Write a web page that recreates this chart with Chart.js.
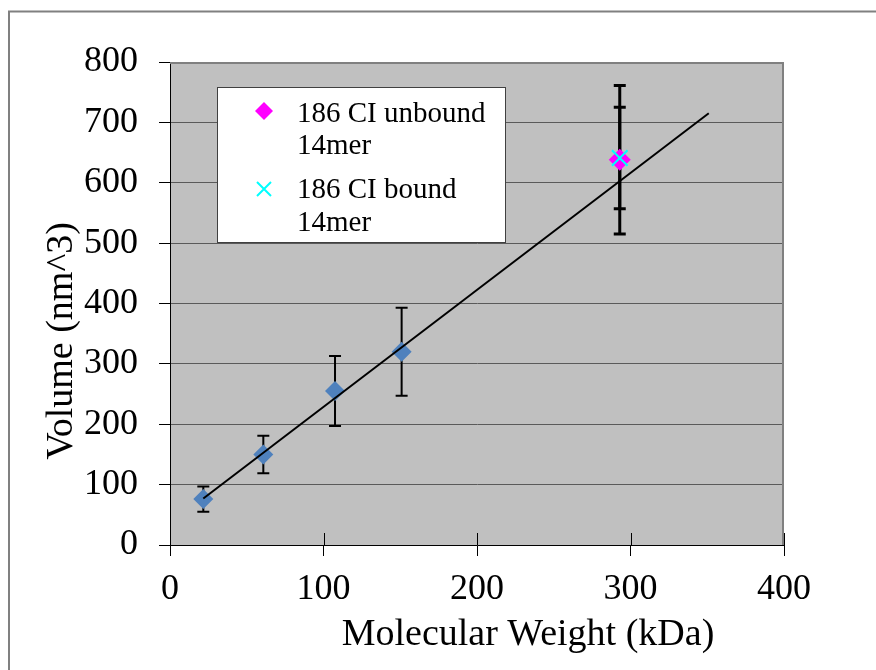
<!DOCTYPE html>
<html><head><meta charset="utf-8">
<script src="https://cdn.jsdelivr.net/npm/chart.js@4.4.0/dist/chart.umd.min.js"></script>
<style>html,body{margin:0;padding:0;background:#fff;}canvas{display:block;}</style>
</head><body>
<canvas id="c" width="876" height="670"></canvas>
<script>
// ---- data ----
const xTickValues = [0, 100, 200, 300, 400];
const yTickValues = [0, 100, 200, 300, 400, 500, 600, 700, 800];
const standardWeights = [21.7, 60.8, 107.5, 150.9];
const standardVolumes = [76, 150, 255, 320];
const standardErrors = [21, 31, 58, 73];
const unboundWeights = [293];
const unboundVolumes = [638];
const unboundErrors = [123];
const boundWeights = [293];
const boundVolumes = [641];
const boundErrors = [84];
const trendWeights = [21.7, 351];
const trendVolumes = [77, 715];
const unboundLabel = ['186 CI unbound', '14mer'];
const boundLabel = ['186 CI bound', '14mer'];
const xTitle = 'Molecular Weight (kDa)';
const yTitle = 'Volume (nm^3)';

const pts = (xs, ys) => xs.map((x, i) => ({x: x, y: ys[i]}));
const SERIF = '"Liberation Serif", "Times New Roman", serif';

const framePlugin = {
  id: 'frame',
  beforeDraw(chart) {
    const ctx = chart.ctx, a = chart.chartArea;
    ctx.save();
    ctx.fillStyle = '#fff';
    ctx.fillRect(0, 0, chart.width, chart.height);
    ctx.strokeStyle = '#808080';
    ctx.lineWidth = 2;
    ctx.beginPath();
    ctx.moveTo(9, 700); ctx.lineTo(9, 11.5); ctx.lineTo(900, 11.5);
    ctx.stroke();
    ctx.fillStyle = '#c0c0c0';
    ctx.fillRect(a.left, a.top, a.right - a.left, a.bottom - a.top);
    ctx.restore();
  },
  beforeDatasetsDraw(chart) {
    const ctx = chart.ctx, a = chart.chartArea, xs = chart.scales.x, ys = chart.scales.y;
    ctx.save();
    // top/right plot border
    ctx.strokeStyle = '#808080';
    ctx.lineWidth = 2;
    ctx.beginPath();
    ctx.moveTo(a.left, a.top + 1); ctx.lineTo(a.right - 1, a.top + 1); ctx.lineTo(a.right - 1, a.bottom);
    ctx.stroke();
    // inner x ticks
    ctx.strokeStyle = '#000';
    ctx.lineWidth = 1;
    xTickValues.forEach(v => {
      const px = Math.round(xs.getPixelForValue(v)) + 0.5;
      ctx.beginPath(); ctx.moveTo(px, a.bottom - 12); ctx.lineTo(px, a.bottom); ctx.stroke();
    });
    // error bars
    const bars = (xsArr, ysArr, errs, lw, cap) => {
      ctx.lineWidth = lw;
      ctx.strokeStyle = '#000';
      xsArr.forEach((xv, i) => {
        const px = xs.getPixelForValue(xv);
        const top = ys.getPixelForValue(ysArr[i] + errs[i]);
        const bot = ys.getPixelForValue(ysArr[i] - errs[i]);
        ctx.beginPath();
        ctx.moveTo(px, top); ctx.lineTo(px, bot);
        ctx.moveTo(px - cap, top); ctx.lineTo(px + cap, top);
        ctx.moveTo(px - cap, bot); ctx.lineTo(px + cap, bot);
        ctx.stroke();
      });
    };
    bars(standardWeights, standardVolumes, standardErrors, 2, 6);
    bars(unboundWeights, unboundVolumes, unboundErrors, 3, 6);
    bars(boundWeights, boundVolumes, boundErrors, 3, 6);
    ctx.restore();
  },
  afterDraw(chart) {
    const ctx = chart.ctx;
    ctx.save();
    // legend box
    ctx.fillStyle = '#fff';
    ctx.fillRect(218, 88, 287, 154);
    ctx.strokeStyle = '#404040';
    ctx.lineWidth = 1;
    ctx.strokeRect(217.5, 87.5, 288, 155);
    // magenta diamond
    ctx.fillStyle = '#ff00ff';
    ctx.beginPath();
    ctx.moveTo(264, 102); ctx.lineTo(273, 111); ctx.lineTo(264, 120); ctx.lineTo(255, 111); ctx.closePath();
    ctx.fill();
    // cyan x
    ctx.strokeStyle = '#00ffff';
    ctx.lineWidth = 2;
    ctx.beginPath();
    ctx.moveTo(257, 182); ctx.lineTo(271, 196); ctx.moveTo(271, 182); ctx.lineTo(257, 196);
    ctx.stroke();
    ctx.fillStyle = '#000';
    ctx.font = '29px ' + SERIF;
    ctx.textBaseline = 'alphabetic';
    ctx.textAlign = 'left';
    ctx.fillText(unboundLabel[0], 297, 122);
    ctx.fillText(unboundLabel[1], 297, 154);
    ctx.fillText(boundLabel[0], 297, 198);
    ctx.fillText(boundLabel[1], 297, 231);
    // axis titles
    ctx.font = '38px ' + SERIF;
    ctx.textAlign = 'center';
    ctx.textBaseline = 'middle';
    ctx.fillText(xTitle, 528, 635);
    ctx.translate(62, 341);
    ctx.rotate(-Math.PI / 2);
    ctx.fillText(yTitle, 0, 0);
    ctx.restore();
  }
};

new Chart(document.getElementById('c'), {
  type: 'scatter',
  data: {
    datasets: [
      {
        label: 'Linear trend', data: pts(trendWeights, trendVolumes), showLine: true,
        borderColor: '#000', borderWidth: 2, pointRadius: 0, order: 0
      },
      {
        label: boundLabel.join(' '), data: pts(boundWeights, boundVolumes),
        pointStyle: 'crossRot', pointRadius: 11, borderColor: '#00ffff', borderWidth: 2,
        backgroundColor: '#00ffff', order: 1
      },
      {
        label: unboundLabel.join(' '), data: pts(unboundWeights, unboundVolumes),
        pointStyle: 'rectRot', pointRadius: 11, backgroundColor: '#ff00ff', borderColor: '#ff00ff',
        borderWidth: 0, order: 2
      },
      {
        label: 'Standards', data: pts(standardWeights, standardVolumes),
        pointStyle: 'rectRot', pointRadius: 10, backgroundColor: '#4f81bd', borderColor: '#4f81bd',
        borderWidth: 0, order: 3
      }
    ]
  },
  options: {
    responsive: false,
    animation: false,
    devicePixelRatio: 1,
    layout: {padding: {top: 62, right: 92, bottom: 0, left: 0}},
    plugins: {legend: {display: false}, tooltip: {enabled: false}},
    scales: {
      x: {
        type: 'linear', min: 0, max: 400,
        afterBuildTicks: s => { s.ticks = xTickValues.map(v => ({value: v})); },
        afterFit: s => { s.height = 125; },
        ticks: {color: '#000', font: {family: SERIF, size: 36}, padding: 12, maxRotation: 0},
        grid: {drawOnChartArea: false, drawTicks: true, tickLength: 11, tickColor: '#000', color: '#000'},
        border: {color: '#000', width: 1},
        title: {display: false}
      },
      y: {
        type: 'linear', min: 0, max: 800,
        afterBuildTicks: s => { s.ticks = yTickValues.map(v => ({value: v})); },
        afterFit: s => { s.width = 170; },
        ticks: {color: '#000', font: {family: SERIF, size: 36}, padding: 21},
        grid: {color: '#5a5a5a', lineWidth: 1, tickLength: 11, tickColor: '#000'},
        border: {color: '#000', width: 1},
        title: {display: false}
      }
    }
  },
  plugins: [framePlugin]
});
</script>
</body></html>
